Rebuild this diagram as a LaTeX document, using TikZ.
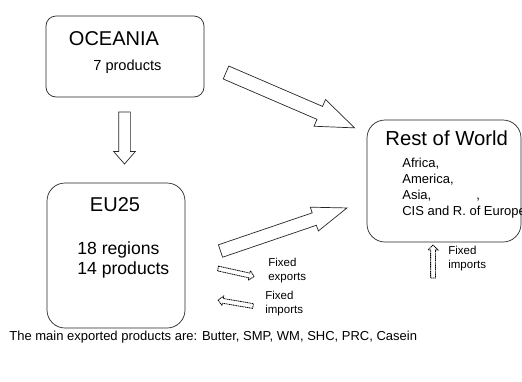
\documentclass[tikz,border=0pt]{standalone}
\usepackage{fontspec}
\setmainfont{Liberation Sans}
\usetikzlibrary{shapes.arrows, positioning}

\begin{document}
\begin{tikzpicture}[x=1pt, y=-1pt, line width=0.7pt, draw=black!85]
    \tikzstyle{region}=[draw, rounded corners=18pt, inner sep=0pt, outer sep=0pt]
    \tikzstyle{big arrow}=[single arrow, draw, fill=white, anchor=tail, inner xsep=0pt, outer sep=0pt]
    \tikzstyle{small arrow}=[single arrow, draw=black, dash pattern=on 1.2pt off 0.6pt, line width=0.8pt, fill=white, anchor=tail, inner xsep=0pt, inner ysep=2pt, outer sep=0pt, single arrow head extend=2.5pt, single arrow tip angle=90]
    \tikzstyle{annot}=[anchor=base west, inner sep=0pt, font=\fontsize{11.5}{14}\selectfont, align=left]

    \useasboundingbox (0,0) rectangle (522,381);

	% the three regions
	\node [region, rounded corners=10pt, minimum width=158pt, minimum height=81pt] (oceania) at (125,56.5) {};
	\node [region, minimum width=138pt, minimum height=145pt] (eu) at (116,255.5) {};
	\node [region, minimum width=154pt, minimum height=122pt] (row) at (444,181) {};

	\node [anchor=base, inner sep=0pt, font=\fontsize{20}{24}\selectfont] (oceania title) at (114,45.7) {OCEANIA};
	\node [anchor=base west, inner sep=0pt, font=\fontsize{14.6}{17}\selectfont] (oceania prod) at (93,70) {7 products};

	\node [anchor=base, inner sep=0pt, font=\fontsize{20}{24}\selectfont] (eu title) at (115,211.7) {EU25};
	\node [anchor=base west, inner sep=0pt, font=\fontsize{17.6}{20}\selectfont] (eu reg) at (77,254) {18 regions};
	\node [anchor=base west, inner sep=0pt, font=\fontsize{17.6}{20}\selectfont] (eu prod) at (77,274) {14 products};

	\node [anchor=base west, inner sep=0pt, font=\fontsize{20.3}{24}\selectfont] (row title) at (385,145) {Rest of World};
	\node [anchor=base west, inner sep=0pt, font=\fontsize{13}{15}\selectfont] (row a) at (402,167.3) {Africa,};
	\node [anchor=base west, inner sep=0pt, font=\fontsize{13}{15}\selectfont] (row b) at (402,183.1) {America,};
	\node [anchor=base west, inner sep=0pt, font=\fontsize{13}{15}\selectfont] (row c) at (402,199) {Asia,\hspace*{45pt},};
	\node [anchor=base west, inner sep=0pt, font=\fontsize{13}{15}\selectfont] (row d) at (402,215) {CIS and R. of Europe};

	% trade flows
	\node [big arrow, rotate=-90, inner ysep=5.5pt, minimum height=52pt, single arrow head extend=5pt, single arrow tip angle=82] (oc2eu) at (124.5,112) {};
	\node [big arrow, rotate=-23.3, inner ysep=6.7pt, minimum height=140pt, single arrow head extend=7.5pt, single arrow tip angle=42] (oc2row) at (226,72.5) {};
	\node [big arrow, rotate=18.8, inner ysep=6.2pt, minimum height=133.6pt, single arrow head extend=6pt, single arrow tip angle=40] (eu2row) at (220.5,251) {};

	\node [small arrow, rotate=-12.5, minimum height=37pt] (eu exp) at (218,268.5) {};
	\node [small arrow, rotate=170.3, minimum height=35.5pt] (eu imp) at (253,306) {};
	\node [small arrow, rotate=90, minimum height=33pt] (row imp) at (433,278) {};

	\node [annot] (eu exp lab) at (268,280) {Fixed\\exports};
	\node [annot] (eu imp lab) at (265,313.3) {Fixed\\imports};
	\node [annot] (row imp lab) at (448,268.3) {Fixed\\imports};

	\node [anchor=base west, inner sep=0pt, font=\fontsize{13}{15}\selectfont] (note) at (9,340.7) {The main exported products are: Butter, SMP, WM, SHC, PRC, Casein};
\end{tikzpicture}
\end{document}
